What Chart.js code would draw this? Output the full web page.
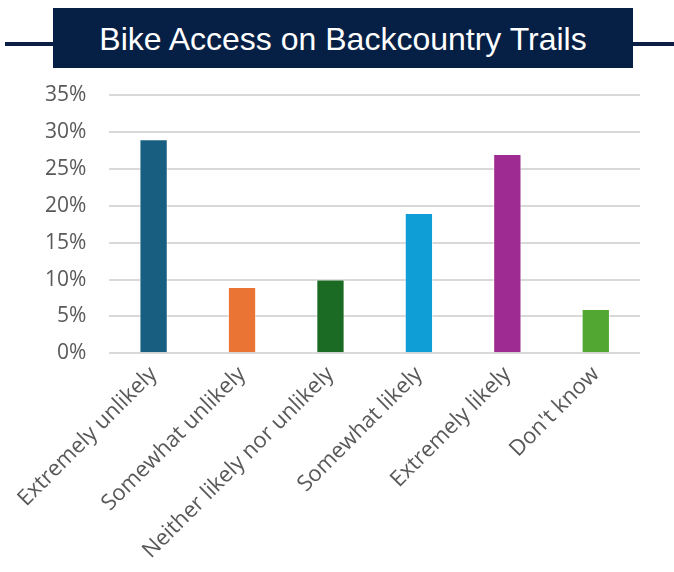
<!DOCTYPE html>
<html>
<head>
<meta charset="utf-8">
<script src="https://cdn.jsdelivr.net/npm/chart.js@4"></script>
<style>
  body { margin: 0; background: #fff; }
  #wrap { position: relative; width: 674px; height: 572px; }
  #rule { position: absolute; left: 5px; right: 0; top: 42px; height: 4px; background: #0b1f44; }
  #banner {
    position: absolute; left: 53px; top: 8px; width: 580px; height: 60px;
    background: #061f45; color: #fff; font-family: "Liberation Sans", Arial, sans-serif;
    font-size: 32px; line-height: 62px; text-align: center;
  }
  canvas { position: absolute; left: 0; top: 0; }
</style>
</head>
<body>
<div id="wrap">
  <canvas id="myChart" width="674" height="572"></canvas>
  <div id="rule"></div>
  <div id="banner">Bike Access on Backcountry Trails</div>
</div>
<script>
// Survey answers and share of respondents (%)
const categories = ["Extremely unlikely", "Somewhat unlikely", "Neither likely nor unlikely", "Somewhat likely", "Extremely likely", "Don't know"];
const shares = [29, 9, 10, 19, 27, 6];
const barColors = ["#175e80", "#ea7434", "#1b6b24", "#0f9fd6", "#9d2b91", "#52a632"];
const yTicks = [0, 5, 10, 15, 20, 25, 30, 35];

const ctx = document.getElementById('myChart').getContext('2d');
new Chart(ctx, {
  type: 'bar',
  data: {
    labels: categories,
    datasets: [{
      data: shares,
      backgroundColor: barColors,
      borderColor: 'rgba(255,255,255,0.6)',
      borderWidth: 1,
      barPercentage: 0.64,
      categoryPercentage: 0.5
    }]
  },
  options: {
    responsive: false,
    animation: false,
    layout: { padding: { top: 95, left: 22, right: 34, bottom: 0 } },
    scales: {
      y: {
        min: 0,
        max: 35,
        afterBuildTicks: axis => { axis.ticks = yTicks.map(v => ({ value: v })); },
        border: { display: false },
        grid: { color: '#d9d9d9', lineWidth: 2, drawTicks: false },
        ticks: {
          padding: 23,
          color: '#595959',
          font: { family: 'Open Sans', size: 21 },
          callback: v => v + '%'
        }
      },
      x: {
        border: { display: false },
        grid: { display: false, drawTicks: false },
        ticks: {
          padding: 8,
          autoSkip: false,
          maxRotation: 45,
          minRotation: 45,
          color: '#595959',
          font: { family: 'Open Sans', size: 22 }
        }
      }
    },
    plugins: {
      legend: { display: false },
      tooltip: { enabled: false }
    }
  }
});
</script>
</body>
</html>
